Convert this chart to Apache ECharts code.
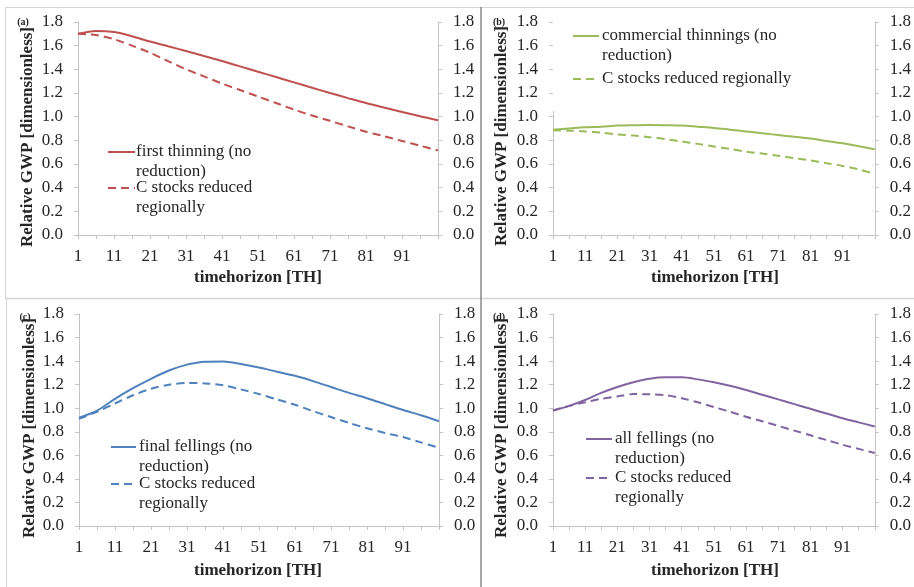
<!DOCTYPE html>
<html><head><meta charset="utf-8">
<script src="https://cdn.jsdelivr.net/npm/echarts@6/dist/echarts.min.js"></script>
<style>html,body{margin:0;padding:0;background:#fff}#c{width:914px;height:587px}</style>
</head><body><div id="c"></div>
<script>
// time horizon categories (every 5th year)
const categories = ['1','6','11','16','21','26','31','36','41','46','51','56','61','66','71','76','81','86','91','96','101'];
// (a) first thinning
const aNoReduction = [1.70,1.725,1.715,1.68,1.635,1.595,1.555,1.512,1.47,1.425,1.38,1.335,1.29,1.245,1.20,1.157,1.115,1.077,1.04,1.003,0.97];
const aReduced     = [1.70,1.69,1.655,1.60,1.54,1.47,1.40,1.34,1.28,1.225,1.17,1.115,1.06,1.01,0.965,0.918,0.873,0.835,0.795,0.755,0.715];
// (b) commercial thinnings
const bNoReduction = [0.89,0.90,0.91,0.915,0.925,0.928,0.93,0.928,0.925,0.915,0.905,0.89,0.875,0.86,0.845,0.83,0.815,0.795,0.775,0.75,0.725];
const bReduced     = [0.885,0.882,0.875,0.865,0.85,0.84,0.827,0.81,0.79,0.77,0.748,0.727,0.705,0.688,0.67,0.65,0.63,0.607,0.584,0.555,0.515];
// (c) final fellings
const cNoReduction = [0.92,0.98,1.08,1.17,1.25,1.32,1.37,1.395,1.397,1.375,1.345,1.31,1.275,1.23,1.18,1.13,1.085,1.035,0.985,0.94,0.89];
const cReduced     = [0.91,0.97,1.04,1.11,1.165,1.20,1.215,1.21,1.195,1.16,1.12,1.075,1.03,0.975,0.925,0.875,0.83,0.79,0.755,0.71,0.665];
// (d) all fellings
const dNoReduction = [0.98,1.02,1.07,1.13,1.18,1.22,1.25,1.262,1.262,1.245,1.22,1.19,1.155,1.115,1.075,1.035,0.995,0.955,0.915,0.88,0.845];
const dReduced     = [0.98,1.02,1.05,1.08,1.10,1.12,1.118,1.11,1.085,1.05,1.01,0.97,0.927,0.89,0.85,0.81,0.77,0.73,0.69,0.655,0.62];

const panelLabels = ['(a)','(b)','(c)','(d)'];
const legendNames = [
  ['first thinning (no\nreduction)','C stocks reduced\nregionally'],
  ['commercial thinnings (no\nreduction)','C stocks reduced regionally'],
  ['final fellings (no\nreduction)','C stocks reduced\nregionally'],
  ['all fellings (no\nreduction)','C stocks reduced\nregionally']
];
const yTitle = 'Relative GWP [dimensionless]';
const xTitle = 'timehorizon [TH]';

const colors = ['#C0504D','#9BBB59','#4F81BD','#8064A2'];
const seriesData = [[aNoReduction,aReduced],[bNoReduction,bReduced],[cNoReduction,cReduced],[dNoReduction,dReduced]];

const FONT = '"Liberation Serif","Times New Roman",serif';
const axisGray = '#c4c4c4';
const txt = '#262626';

const grids = [
  {left:78, top:22, width:360, height:213},
  {left:553, top:22, width:324, height:213},
  {left:79, top:314, width:360, height:212},
  {left:553, top:314, width:324, height:212}
];

const xAxes = [], yAxes = [], series = [];
grids.forEach((g,i)=>{
  xAxes.push({
    type:'category', gridIndex:i, data:categories, boundaryGap:false,
    axisLine:{lineStyle:{color:axisGray,width:1}},
    axisTick:{interval:0, length:4, lineStyle:{color:axisGray}},
    axisLabel:{interval:0, margin:13, color:txt, fontFamily:FONT, fontSize:17,
      formatter:(v,idx)=> (idx%2===0 && idx<categories.length-1) ? v : ''},
    splitLine:{show:false}
  });
  ['left','right'].forEach(pos=>{
    yAxes.push({
      type:'value', gridIndex:i, position:pos, min:0, max:1.8, interval:0.2,
      axisLine:{show:true, lineStyle:{color:axisGray,width:1}},
      axisTick:{show:true, length:4, lineStyle:{color:axisGray}},
      axisLabel:{margin:15, color:txt, fontFamily:FONT, fontSize:17, formatter:v=>v.toFixed(1)},
      splitLine:{show:false}
    });
  });
  seriesData[i].forEach((d,k)=>{
    series.push({
      type:'line', xAxisIndex:i, yAxisIndex:i*2, data:d, smooth:0.3, symbol:'none',
      name:legendNames[i][k], z:3,
      lineStyle:{color:colors[i], width:2, type: k===0 ? 'solid' : [8,5]}
    });
  });
});

const graphic = [];
// frames
const frameC = '#d4d4d4';
graphic.push({type:'line', shape:{x1:5, y1:7.5, x2:914, y2:7.5}, style:{stroke:frameC, lineWidth:1}});
graphic.push({type:'line', shape:{x1:5.5, y1:7, x2:5.5, y2:298}, style:{stroke:frameC, lineWidth:1}});
graphic.push({type:'line', shape:{x1:6.5, y1:299, x2:6.5, y2:587}, style:{stroke:frameC, lineWidth:1}});
graphic.push({type:'line', shape:{x1:5, y1:298.5, x2:914, y2:298.5}, style:{stroke:frameC, lineWidth:1.5}});
graphic.push({type:'line', shape:{x1:481, y1:7, x2:481, y2:587}, style:{stroke:'#8a8a8a', lineWidth:1.5}});

// legend blocks (position of sample line, text x, first line y, second item y)
const legendPos = [
  {x1:108, x2:135, tx:136, y1:152, y2:188},
  {x1:573, x2:599, tx:602, y1:36, y2:79},
  {x1:111, x2:136, tx:139, y1:447, y2:484},
  {x1:586, x2:612, tx:615, y1:439, y2:478}
];
// white legend box in (b) covering the axis line
graphic.push({type:'rect', shape:{x:553, y:15, width:290, height:96}, style:{fill:'#fff'}, z:50});
legendPos.forEach((p,i)=>{
  [p.y1,p.y2].forEach((yy,k)=>{
    graphic.push({type:'line', z:60, shape:{x1:p.x1, y1:yy, x2:p.x2, y2:yy},
      style:{stroke:colors[i], lineWidth:2, lineDash: k===0 ? null : [8,5]}});
    graphic.push({type:'text', z:60, x:p.tx, y:yy-10, style:{text:legendNames[i][k], font:'17px '+FONT, fill:txt, lineHeight:19.5, verticalAlign:'top', align:'left'}});
  });
});

// axis titles and panel labels
const titlePos = [
  {yx:28, yy:137, xx:258, xy:278, lx:23, ly:22},
  {yx:502, yy:136, xx:715, xy:278, lx:499, ly:22},
  {yx:30, yy:428, xx:258, xy:571, lx:25, ly:317},
  {yx:502, yy:428, xx:715, xy:571, lx:499, ly:317}
];
titlePos.forEach((t,i)=>{
  graphic.push({type:'text', z:70, x:t.yx, y:t.yy, rotation:Math.PI/2,
    style:{text:yTitle, font:'bold 17px '+FONT, fill:txt, align:'center', verticalAlign:'middle'}});
  graphic.push({type:'text', z:70, x:t.xx, y:t.xy,
    style:{text:xTitle, font:'bold 17px '+FONT, fill:txt, align:'center', verticalAlign:'middle'}});
  graphic.push({type:'text', z:71, x:t.lx, y:t.ly,
    style:{text:panelLabels[i], font:'bold 10px '+FONT, fill:txt, align:'center', verticalAlign:'middle'}});
});

const chart = echarts.init(document.getElementById('c'), null, {renderer:'canvas'});
chart.setOption({
  animation:false,
  backgroundColor:'#fff',
  grid:grids, xAxis:xAxes, yAxis:yAxes, series:series, graphic:graphic
});
</script></body></html>
